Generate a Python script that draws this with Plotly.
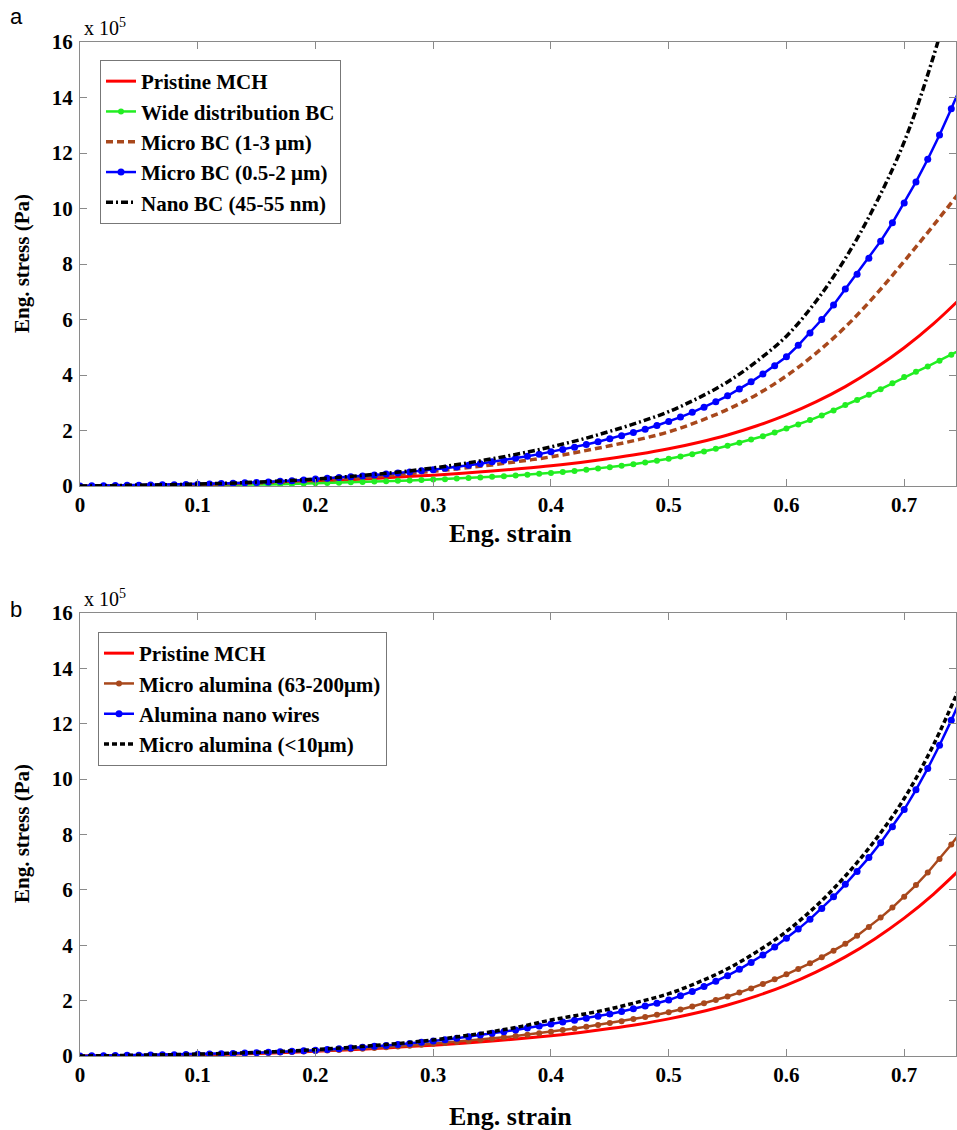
import plotly.graph_objects as go

# Strain sample positions
STRAIN_FINE = [round(i * 0.01, 2) for i in range(76)]      # 0 .. 0.75
STRAIN_COARSE = [round(i * 0.025, 3) for i in range(31)]   # 0 .. 0.75

# ---- Panel a: bacterial cellulose fillers (stress in 1e5 Pa) ----
PRISTINE_MCH = [0, 0.006, 0.015, 0.026, 0.04, 0.06, 0.09, 0.125, 0.17, 0.215,
                0.27, 0.33, 0.39, 0.46, 0.54, 0.63, 0.73, 0.85, 0.99, 1.15,
                1.34, 1.57, 1.84, 2.17, 2.56, 3.03, 3.58, 4.23, 4.98, 5.85, 6.85]

WIDE_BC = [0, 0.002, 0.004, 0.006, 0.008,
           0.01, 0.012, 0.014, 0.017, 0.021,
           0.025, 0.029, 0.033, 0.038, 0.044,
           0.05, 0.057, 0.066, 0.076, 0.087,
           0.10, 0.11, 0.121, 0.133, 0.146,
           0.16, 0.172, 0.185, 0.199, 0.214,
           0.23, 0.247, 0.266, 0.286, 0.307,
           0.33, 0.354, 0.38, 0.408, 0.438,
           0.47, 0.506, 0.545, 0.587, 0.632,
           0.68, 0.732, 0.787, 0.847, 0.911,
           0.98, 1.06, 1.146, 1.24, 1.341,
           1.45, 1.557, 1.672, 1.795, 1.927,
           2.07, 2.217, 2.375, 2.544, 2.725,
           2.92, 3.099, 3.288, 3.489, 3.703,
           3.93, 4.115, 4.31, 4.513, 4.726,
           4.95]

MICRO_BC_1_3 = [0, 0.01, 0.025, 0.04, 0.055, 0.08, 0.11, 0.15, 0.20, 0.26,
                0.34, 0.43, 0.53, 0.64, 0.76, 0.90, 1.05, 1.24, 1.45, 1.68,
                1.95, 2.32, 2.76, 3.30, 3.97, 4.78, 5.73, 6.85, 8.10, 9.40, 10.75]

MICRO_BC_05_2 = [0, 0.006, 0.012, 0.018, 0.024,
                 0.03, 0.035, 0.041, 0.048, 0.056,
                 0.065, 0.075, 0.086, 0.099, 0.113,
                 0.13, 0.148, 0.169, 0.192, 0.219,
                 0.25, 0.275, 0.302, 0.331, 0.364,
                 0.40, 0.432, 0.467, 0.505, 0.546,
                 0.59, 0.638, 0.689, 0.745, 0.805,
                 0.87, 0.932, 0.999, 1.071, 1.148,
                 1.23, 1.312, 1.40, 1.493, 1.593,
                 1.70, 1.809, 1.925, 2.048, 2.18,
                 2.32, 2.482, 2.655, 2.841, 3.039,
                 3.25, 3.493, 3.754, 4.034, 4.336,
                 4.66, 5.069, 5.514, 5.998, 6.525,
                 7.1, 7.633, 8.206, 8.823, 9.486,
                 10.2, 10.959, 11.774, 12.65, 13.591,
                 14.6]

NANO_BC = [0, 0.013, 0.03, 0.047, 0.07, 0.10, 0.14, 0.19, 0.25, 0.33,
           0.42, 0.52, 0.65, 0.80, 0.98, 1.18, 1.41, 1.67, 1.97, 2.30,
           2.68, 3.17, 3.75, 4.50, 5.40, 6.65, 8.2, 10.1, 12.4, 15.5, 19.3]

# ---- Panel b: alumina fillers (stress in 1e5 Pa) ----
MICRO_ALUMINA_63_200 = [0, 0.004, 0.008, 0.012, 0.016,
                        0.02, 0.024, 0.029, 0.035, 0.042,
                        0.05, 0.057, 0.066, 0.076, 0.087,
                        0.10, 0.112, 0.127, 0.142, 0.16,
                        0.18, 0.198, 0.218, 0.24, 0.264,
                        0.29, 0.315, 0.343, 0.372, 0.405,
                        0.44, 0.473, 0.508, 0.546, 0.586,
                        0.63, 0.674, 0.72, 0.77, 0.823,
                        0.88, 0.935, 0.993, 1.054, 1.12,
                        1.19, 1.259, 1.333, 1.411, 1.493,
                        1.58, 1.68, 1.787, 1.901, 2.021,
                        2.15, 2.29, 2.44, 2.599, 2.769,
                        2.95, 3.143, 3.349, 3.568, 3.802,
                        4.05, 4.344, 4.66, 4.998, 5.361,
                        5.75, 6.173, 6.628, 7.115, 7.639,
                        8.2]

ALUMINA_NANOWIRES = [0, 0.006, 0.012, 0.018, 0.024,
                     0.03, 0.035, 0.041, 0.048, 0.056,
                     0.065, 0.074, 0.083, 0.094, 0.106,
                     0.12, 0.134, 0.15, 0.168, 0.188,
                     0.21, 0.233, 0.258, 0.285, 0.316,
                     0.35, 0.382, 0.416, 0.454, 0.495,
                     0.54, 0.587, 0.638, 0.694, 0.754,
                     0.82, 0.879, 0.942, 1.01, 1.082,
                     1.16, 1.225, 1.293, 1.364, 1.44,
                     1.52, 1.609, 1.703, 1.803, 1.908,
                     2.02, 2.172, 2.334, 2.509, 2.698,
                     2.9, 3.13, 3.379, 3.647, 3.937,
                     4.25, 4.583, 4.943, 5.33, 5.748,
                     6.2, 6.665, 7.165, 7.702, 8.28,
                     8.9, 9.615, 10.387, 11.221, 12.122,
                     13.1]

MICRO_ALUMINA_LT10 = [0, 0.013, 0.03, 0.046, 0.07, 0.095, 0.13, 0.175, 0.23, 0.30,
                      0.38, 0.47, 0.58, 0.72, 0.88, 1.07, 1.30, 1.49, 1.70, 1.96,
                      2.25, 2.66, 3.15, 3.77, 4.50, 5.41, 6.50, 7.78, 9.30, 11.25, 13.6]

X_TICKS = [0, 0.1, 0.2, 0.3, 0.4, 0.5, 0.6, 0.7]
X_TICK_TEXT = ["0", "0.1", "0.2", "0.3", "0.4", "0.5", "0.6", "0.7"]
Y_TICKS = [0, 2, 4, 6, 8, 10, 12, 14, 16]
Y_TICK_TEXT = ["0", "2", "4", "6", "8", "10", "12", "14", "16"]

SERIF = "Liberation Serif"
RED, GREEN, BROWN, BLUE, BLACK = "#ff0000", "#22ee22", "#a8481c", "#0000ff", "#000000"
AXIS_GREY = "#8a8a8a"

fig = go.Figure()

# Panel a traces
fig.add_trace(go.Scatter(x=STRAIN_COARSE, y=PRISTINE_MCH, name="Pristine MCH",
                         mode="lines", line=dict(color=RED, width=3, shape="spline"),
                         xaxis="x", yaxis="y", legend="legend"))
fig.add_trace(go.Scatter(x=STRAIN_FINE, y=WIDE_BC, name="Wide distribution BC",
                         mode="lines+markers", line=dict(color=GREEN, width=2.5),
                         marker=dict(color=GREEN, size=6, symbol="circle"),
                         xaxis="x", yaxis="y", legend="legend"))
fig.add_trace(go.Scatter(x=STRAIN_COARSE, y=MICRO_BC_1_3, name="Micro BC (1-3 \u03bcm)",
                         mode="lines", line=dict(color=BROWN, width=3.5, dash="7px,4px", shape="spline"),
                         xaxis="x", yaxis="y", legend="legend"))
fig.add_trace(go.Scatter(x=STRAIN_FINE, y=MICRO_BC_05_2, name="Micro BC (0.5-2 \u03bcm)",
                         mode="lines+markers", line=dict(color=BLUE, width=2.5),
                         marker=dict(color=BLUE, size=7, symbol="circle"),
                         xaxis="x", yaxis="y", legend="legend"))
fig.add_trace(go.Scatter(x=STRAIN_COARSE, y=NANO_BC, name="Nano BC (45-55 nm)",
                         mode="lines", line=dict(color=BLACK, width=3.5, dash="7px,3px,2px,3px", shape="spline"),
                         xaxis="x", yaxis="y", legend="legend"))

# Panel b traces
fig.add_trace(go.Scatter(x=STRAIN_COARSE, y=PRISTINE_MCH, name="Pristine MCH",
                         mode="lines", line=dict(color=RED, width=3, shape="spline"),
                         xaxis="x2", yaxis="y2", legend="legend2"))
fig.add_trace(go.Scatter(x=STRAIN_FINE, y=MICRO_ALUMINA_63_200, name="Micro alumina (63-200\u03bcm)",
                         mode="lines+markers", line=dict(color=BROWN, width=2.5),
                         marker=dict(color=BROWN, size=6, symbol="circle"),
                         xaxis="x2", yaxis="y2", legend="legend2"))
fig.add_trace(go.Scatter(x=STRAIN_FINE, y=ALUMINA_NANOWIRES, name="Alumina nano wires",
                         mode="lines+markers", line=dict(color=BLUE, width=2.5),
                         marker=dict(color=BLUE, size=7, symbol="circle"),
                         xaxis="x2", yaxis="y2", legend="legend2"))
fig.add_trace(go.Scatter(x=STRAIN_COARSE, y=MICRO_ALUMINA_LT10, name="Micro alumina (<10\u03bcm)",
                         mode="lines", line=dict(color=BLACK, width=3.5, dash="5px,3px", shape="spline"),
                         xaxis="x2", yaxis="y2", legend="legend2"))

tick_font = dict(family=SERIF, size=21, color="black", weight="bold")

def x_axis(domain_anchor):
    return dict(domain=[0, 1], range=[0, 0.744], anchor=domain_anchor, automargin=False,
                tickvals=X_TICKS, ticktext=X_TICK_TEXT, tickfont=tick_font,
                ticks="inside", ticklen=7, tickcolor=AXIS_GREY, tickwidth=1,
                showline=True, linecolor=AXIS_GREY, linewidth=1, mirror="ticks",
                showgrid=False, zeroline=False)

def y_axis(domain, domain_anchor):
    return dict(domain=domain, range=[0, 16], anchor=domain_anchor, automargin=False,
                tickvals=Y_TICKS, ticktext=Y_TICK_TEXT, tickfont=tick_font,
                ticks="inside", ticklen=7, tickcolor=AXIS_GREY, tickwidth=1,
                ticklabelstandoff=2,
                showline=True, linecolor=AXIS_GREY, linewidth=1, mirror="ticks",
                showgrid=False, zeroline=False)

H = 1130.0
legend_font = dict(family=SERIF, size=21, color="black", weight="bold")

fig.update_layout(
    width=957, height=1130,
    margin=dict(l=80, r=1, t=0, b=0, autoexpand=False),
    paper_bgcolor="white", plot_bgcolor="white",
    xaxis=x_axis("y"),
    yaxis=y_axis([1 - 486 / H, 1 - 42 / H], "x"),
    xaxis2=x_axis("y2"),
    yaxis2=y_axis([1 - 1056 / H, 1 - 613 / H], "x2"),
    legend=dict(x=20 / 876, y=1 - 60 / H, xanchor="left", yanchor="top",
                bgcolor="white", bordercolor="#777777", borderwidth=1,
                font=legend_font, itemwidth=30, tracegroupgap=0),
    legend2=dict(x=18 / 876, y=1 - 632 / H, xanchor="left", yanchor="top",
                 bgcolor="white", bordercolor="#777777", borderwidth=1,
                 font=legend_font, itemwidth=30, tracegroupgap=0),
    showlegend=True,
)

title_font = dict(family=SERIF, size=26, color="black", weight="bold")
ytitle_font = dict(family=SERIF, size=21, color="black", weight="bold")
mult_font = dict(family=SERIF, size=20, color="black")
panel_font = dict(family="Liberation Sans", size=22, color="black")

annotations = [
    # panel letters
    dict(text="a", x=-72 / 876, y=1 - 17 / H, xanchor="left", yanchor="middle", font=panel_font),
    dict(text="b", x=-72 / 876, y=1 - 609 / H, xanchor="left", yanchor="middle", font=panel_font),
    # exponent labels
    dict(text="x 10<sup>5</sup>", x=2 / 876, y=1 - 41 / H, xanchor="left", yanchor="bottom", font=mult_font),
    dict(text="x 10<sup>5</sup>", x=2 / 876, y=1 - 612 / H, xanchor="left", yanchor="bottom", font=mult_font),
    # axis titles
    dict(text="Eng. strain", x=430 / 876, y=1 - 533 / H, xanchor="center", yanchor="middle", font=title_font),
    dict(text="Eng. strain", x=430 / 876, y=1 - 1116 / H, xanchor="center", yanchor="middle", font=title_font),
    dict(text="Eng. stress (Pa)", x=-58 / 876, y=1 - 264 / H, xanchor="center", yanchor="middle",
         textangle=-90, font=ytitle_font),
    dict(text="Eng. stress (Pa)", x=-58 / 876, y=1 - 834 / H, xanchor="center", yanchor="middle",
         textangle=-90, font=ytitle_font),
]
for a in annotations:
    a.update(xref="paper", yref="paper", showarrow=False)
fig.update_layout(annotations=annotations)

fig.write_html("out.html")
